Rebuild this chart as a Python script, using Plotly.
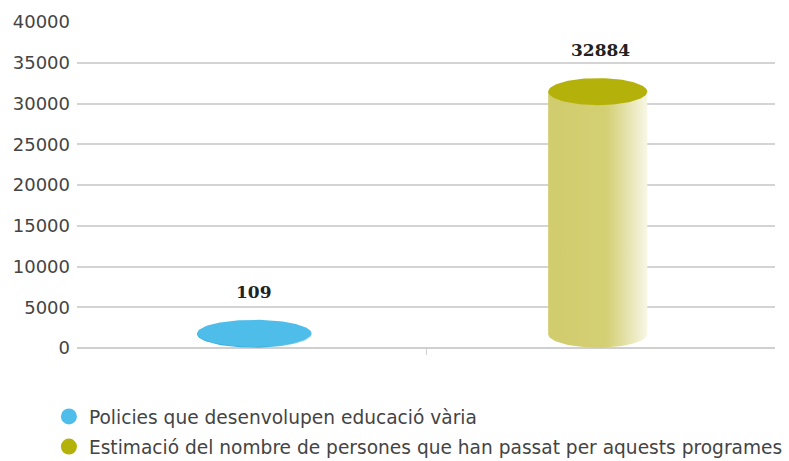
import numpy as np
import plotly.graph_objects as go

# Series shown as 3-D cylinders
series_names = [
    "Policies que desenvolupen educació vària",
    "Estimació del nombre de persones que han passat per aquests programes",
]
series_values = [109, 32884]

# Y axis ticks
y_ticks = [0, 5000, 10000, 15000, 20000, 25000, 30000, 35000, 40000]

# Styling per series
x_centers = [0.254, 0.746]
half_widths = [0.082, 0.071]
top_colors = ["#4fbdea", "#b5b10b"]
side_scales = [
    [[0, "#3aa8d8"], [0.6, "#3eafdf"], [1, "#bfe6f7"]],
    [[0, "#d1cd6e"], [0.58, "#d3cf73"], [0.75, "#e1de9f"], [1, "#f8f7e6"]],
]

# Cylinder geometry in data units (depth foreshortening of the 3-D view)
BASE = 1700.0      # centre of the bottom ellipse
DEPTH_K = 0.905    # foreshortening applied to the value
ELL_H = 1660.0     # half height of each end ellipse

fig = go.Figure()
t = np.linspace(0, np.pi, 60)

for i, (name, v, xc, hw, col, scale) in enumerate(zip(
        series_names, series_values, x_centers, half_widths, top_colors, side_scales)):
    top_c = BASE + DEPTH_K * v
    # side: rectangle plus bottom half of the lower ellipse
    xs = [xc - hw, xc + hw] + [float(a) for a in xc + hw * np.cos(t)] + [xc - hw]
    ys = [top_c, top_c] + [float(a) for a in BASE - ELL_H * np.sin(t)] + [top_c]
    fig.add_trace(go.Scatter(
        x=xs, y=ys, mode="lines", fill="toself", line=dict(width=0),
        fillgradient=dict(type="horizontal", colorscale=scale),
        hoverinfo="skip", showlegend=False,
    ))
    # top ellipse
    tt = np.linspace(0, 2 * np.pi, 120)
    fig.add_trace(go.Scatter(
        x=[float(a) for a in xc + hw * np.cos(tt)],
        y=[float(a) for a in top_c + ELL_H * np.sin(tt)],
        mode="lines", fill="toself", fillcolor=col, line=dict(width=0, color=col),
        hoverinfo="skip", showlegend=False,
    ))
    # value label
    fig.add_annotation(
        x=xc, y=top_c + ELL_H, text=f"<b>{v}</b>", showarrow=False,
        yanchor="bottom", yshift=16, xshift=3 if i else 0,
        font=dict(family="DejaVu Serif", size=17, color="#222222"),
    )
    # legend entry
    fig.add_trace(go.Scatter(
        x=[None], y=[None], mode="markers", name=name, legendgroup=f"g{i}",
        marker=dict(symbol="circle", size=18, color=col),
        hoverinfo="skip",
    ))

fig.update_layout(
    width=789, height=461,
    margin=dict(l=77, r=14, t=22, b=113, autoexpand=False),
    paper_bgcolor="white", plot_bgcolor="white",
    font=dict(family="DejaVu Sans", size=18, color="#444444"),
    showlegend=True,
    legend=dict(
        xref="container", yref="container", x=0.062, y=0.137,
        xanchor="left", yanchor="top", tracegroupgap=3,
        font=dict(size=18.6, color="#444444"), itemsizing="trace",
    ),
    xaxis=dict(
        range=[0, 1], showgrid=False, zeroline=False, showticklabels=False,
        ticks="outside", tickvals=[0.5], ticklen=6, tickcolor="#cfcfcf",
        fixedrange=True,
    ),
    yaxis=dict(
        range=[0, 40000], tickvals=y_ticks, ticktext=[str(v) for v in y_ticks],
        showgrid=True, gridcolor="#d4d4d4", gridwidth=1.5,
        zeroline=True, zerolinecolor="#cfcfcf", zerolinewidth=1.5,
        ticks="", ticklabelstandoff=6, fixedrange=True,
    ),
)

fig.write_html("out.html")
